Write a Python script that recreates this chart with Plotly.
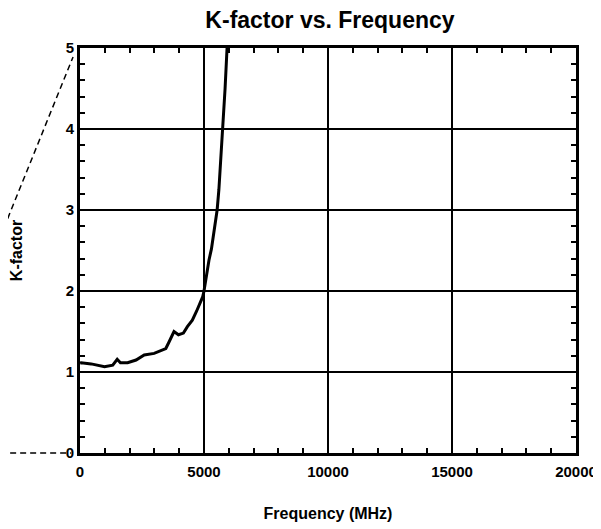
import plotly.graph_objects as go

# K-factor curve (frequency in MHz)
freq_mhz = [0, 50, 450, 990, 1320, 1500, 1630, 1920, 2260, 2590, 2990, 3460,
            3590, 3790, 3970, 4170, 4330, 4530, 4700, 4850, 4950, 5000, 5100,
            5200, 5300, 5400, 5530, 5600, 5650, 5700, 5770, 5850, 5930, 6000]
k_factor = [1.11, 1.115, 1.10, 1.065, 1.085, 1.157, 1.115, 1.115, 1.148, 1.21,
            1.23, 1.29, 1.37, 1.50, 1.46, 1.48, 1.56, 1.64, 1.75, 1.85, 1.93,
            2.0, 2.2, 2.38, 2.52, 2.72, 3.0, 3.25, 3.5, 3.75, 4.0, 4.5, 5.0, 5.6]

x_ticks = [0, 5000, 10000, 15000, 20000]
x_tick_text = ["0", "5000", "10000", "15000", "20000"]
y_ticks = [0, 1, 2, 3, 4, 5]
y_tick_text = ["0", "1", "2", "3", "4", "5"]

FONT = "Arial, Liberation Sans, sans-serif"

fig = go.Figure()
fig.add_trace(go.Scatter(
    x=freq_mhz, y=k_factor, mode="lines",
    line=dict(color="black", width=3), showlegend=False,
))

axis_common = dict(
    showline=True, linecolor="black", linewidth=3, mirror="ticks",
    showgrid=True, gridcolor="black", gridwidth=2, zeroline=False,
    ticks="inside", ticklen=6, tickwidth=2, tickcolor="black",
    tickfont=dict(family=FONT, size=15, color="black", weight="bold"),
    automargin=False,
)

# page body has an 8px margin, so the figure is sized to fit inside the window
fig.update_layout(
    width=593, height=521,
    margin=dict(l=72, r=25, t=40, b=76),
    paper_bgcolor="white", plot_bgcolor="white",
    title=dict(text="K-factor vs. Frequency", x=0.543, xanchor="center",
               y=0.977, yanchor="middle", automargin=False,
               font=dict(family=FONT, size=23, color="black", weight="bold")),
    xaxis=dict(range=[0, 20000], tickvals=x_ticks, ticktext=x_tick_text,
               ticklabelstandoff=3,
               minor=dict(dtick=1000, ticks="inside", ticklen=5, tickwidth=2,
                          tickcolor="black", showgrid=False),
               title=dict(text="Frequency (MHz)", standoff=29,
                          font=dict(family=FONT, size=16, color="black", weight="bold")),
               **axis_common),
    yaxis=dict(range=[0, 5], tickvals=y_ticks, ticktext=y_tick_text,
               minor=dict(dtick=0.2, ticks="inside", ticklen=5, tickwidth=2,
                          tickcolor="black", showgrid=False),
               title=dict(text="K-factor", standoff=40,
                          font=dict(family=FONT, size=16, color="black", weight="bold")),
               **axis_common),
)

# stray dashed construction lines left of the y axis in the original
fig.add_shape(type="line", xref="paper", yref="paper", x0=-0.161, y0=0, x1=-0.018, y1=0,
              line=dict(color="black", width=1.5, dash="6px,4px"))
fig.add_shape(type="line", xref="paper", yref="paper", x0=-0.161, y0=0.533, x1=-0.014, y1=0.978,
              line=dict(color="black", width=1.5, dash="6px,4px"))

fig.write_html("out.html")
